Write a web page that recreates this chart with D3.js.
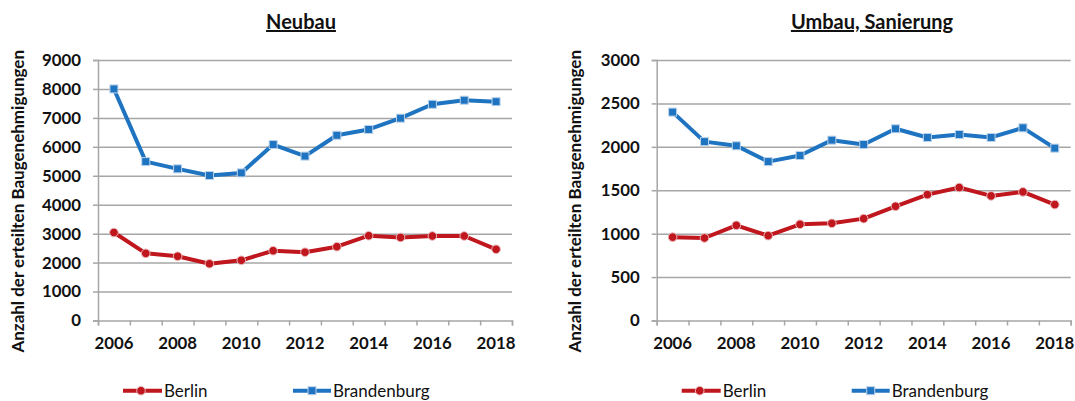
<!DOCTYPE html>
<html>
<head>
<meta charset="utf-8">
<script src="https://cdn.jsdelivr.net/npm/d3@7"></script>
<style>
  html, body { margin: 0; padding: 0; background: #fff; }
  svg { display: block; font-family: Lato, "Open Sans", sans-serif; }
</style>
</head>
<body>
<svg id="chart" width="1075" height="401"></svg>
<script>
// Baugenehmigungen 2006–2018, Berlin und Brandenburg
const years = [2006, 2007, 2008, 2009, 2010, 2011, 2012, 2013, 2014, 2015, 2016, 2017, 2018];
const labelYears = [2006, 2008, 2010, 2012, 2014, 2016, 2018];

const neubauBerlin      = [3040, 2320, 2220, 1960, 2080, 2410, 2360, 2550, 2930, 2870, 2920, 2920, 2460];
const neubauBrandenburg = [8000, 5490, 5240, 5010, 5100, 6080, 5680, 6400, 6600, 6990, 7470, 7610, 7560];
const umbauBerlin       = [960, 950, 1096, 977, 1108, 1119, 1173, 1315, 1450, 1531, 1435, 1481, 1335];
const umbauBrandenburg  = [2400, 2060, 2012, 1830, 1900, 2077, 2027, 2208, 2108, 2142, 2108, 2219, 1985];

const neubauTicks = [0, 1000, 2000, 3000, 4000, 5000, 6000, 7000, 8000, 9000];
const umbauTicks  = [0, 500, 1000, 1500, 2000, 2500, 3000];

const seriesNames = ["Berlin", "Brandenburg"];
const axisTitle = "Anzahl der erteilten Baugenehmigungen";

const RED = "#c0161d";
const BLUE = "#1f74c1";
const GRID = "#a6a6a6";

const svg = d3.select("#chart");

const panels = [
  { title: "Neubau", titleX: 301, left: 98, yMax: 9000, ticks: neubauTicks,
    berlin: neubauBerlin, brandenburg: neubauBrandenburg, ytitleX: 24 },
  { title: "Umbau, Sanierung", titleX: 872, left: 656.7, yMax: 3000, ticks: umbauTicks,
    berlin: umbauBerlin, brandenburg: umbauBrandenburg, ytitleX: 581 }
];

const plotW = 414, plotTop = 60, plotBottom = 320.5;

panels.forEach(p => {
  const g = svg.append("g");
  const x = d3.scaleBand().domain(years).range([p.left, p.left + plotW]).padding(0);
  const xEdge = d3.scaleLinear().domain([0, years.length]).range([p.left, p.left + plotW]);
  const y = d3.scaleLinear().domain([0, p.yMax]).range([plotBottom, plotTop]);

  // title
  g.append("text")
    .attr("x", p.titleX).attr("y", 29)
    .attr("text-anchor", "middle")
    .style("font-size", "20px").style("font-weight", "bold")
    .style("text-decoration", "underline")
    .attr("fill", "#111")
    .text(p.title);

  // horizontal gridlines
  g.append("g")
    .attr("transform", `translate(${p.left},0)`)
    .call(d3.axisLeft(y).tickValues(p.ticks.filter(t => t > 0)).tickSize(-plotW).tickFormat(""))
    .call(s => s.select(".domain").remove())
    .call(s => s.selectAll("line").attr("stroke", GRID).attr("stroke-width", 1.5));

  // y axis with labels
  g.append("g")
    .attr("transform", `translate(${p.left},0)`)
    .call(d3.axisLeft(y).tickValues(p.ticks).tickSize(5).tickPadding(12).tickFormat(d3.format("d")))
    .call(s => s.select(".domain").attr("stroke", GRID).attr("stroke-width", 1.5))
    .call(s => s.selectAll("line").attr("stroke", GRID).attr("stroke-width", 1.5))
    .call(s => s.selectAll("text")
      .style("font-size", "16.8px").style("font-weight", "bold")
      .style("font-family", "Lato, sans-serif").attr("fill", "#111"));

  // x axis tick marks at category boundaries
  g.append("g")
    .attr("transform", `translate(0,${plotBottom})`)
    .call(d3.axisBottom(xEdge).tickValues(d3.range(0, years.length + 1)).tickSize(5).tickFormat(""))
    .call(s => s.select(".domain").attr("stroke", GRID).attr("stroke-width", 1.5))
    .call(s => s.selectAll("line").attr("stroke", GRID).attr("stroke-width", 1.5));

  // x axis labels at category centres
  g.append("g")
    .attr("transform", `translate(0,${plotBottom})`)
    .call(d3.axisBottom(x).tickValues(labelYears).tickSize(0).tickPadding(17))
    .call(s => s.select(".domain").remove())
    .call(s => s.selectAll("text")
      .style("font-size", "16.8px").style("font-weight", "bold")
      .style("font-family", "Lato, sans-serif").attr("fill", "#111"));

  // y axis title
  g.append("text")
    .attr("transform", `translate(${p.ytitleX},${(plotTop + plotBottom) / 2 + 11}) rotate(-90)`)
    .attr("text-anchor", "middle")
    .style("font-size", "17px").style("font-weight", "bold")
    .attr("fill", "#111")
    .text(axisTitle);

  const cx = d => x(d) + x.bandwidth() / 2;
  const line = d3.line().x(d => cx(d.year)).y(d => y(d.v));

  const berlinPts = years.map((yr, i) => ({ year: yr, v: p.berlin[i] }));
  const brandPts = years.map((yr, i) => ({ year: yr, v: p.brandenburg[i] }));

  // Brandenburg series
  g.append("path").datum(brandPts)
    .attr("d", line).attr("fill", "none")
    .attr("stroke", BLUE).attr("stroke-width", 4).attr("stroke-linejoin", "round");
  g.selectAll(".sq").data(brandPts).join("rect")
    .attr("x", d => cx(d.year) - 4).attr("y", d => y(d.v) - 4)
    .attr("width", 8).attr("height", 8)
    .attr("fill", BLUE).attr("stroke", "#bcd3ea").attr("stroke-width", 1);

  // Berlin series
  g.append("path").datum(berlinPts)
    .attr("d", line).attr("fill", "none")
    .attr("stroke", RED).attr("stroke-width", 4).attr("stroke-linejoin", "round");
  g.selectAll(".ci").data(berlinPts).join("circle")
    .attr("cx", d => cx(d.year)).attr("cy", d => y(d.v))
    .attr("r", 4.3)
    .attr("fill", RED).attr("stroke", "#eab9bb").attr("stroke-width", 1);

  // legend
  const lg = g.append("g").attr("transform", `translate(${p.left},0)`);
  const ly = 390.7;
  // Berlin entry
  lg.append("line").attr("x1", 25).attr("x2", 64).attr("y1", ly).attr("y2", ly)
    .attr("stroke", RED).attr("stroke-width", 4);
  lg.append("circle").attr("cx", 43).attr("cy", ly).attr("r", 4.3)
    .attr("fill", RED).attr("stroke", "#eab9bb").attr("stroke-width", 1);
  lg.append("text").attr("x", 66).attr("y", 396.5)
    .style("font-size", "17px").attr("fill", "#111").text(seriesNames[0]);
  // Brandenburg entry
  lg.append("line").attr("x1", 195).attr("x2", 233).attr("y1", ly).attr("y2", ly)
    .attr("stroke", BLUE).attr("stroke-width", 4);
  lg.append("rect").attr("x", 210).attr("y", ly - 4).attr("width", 8).attr("height", 8)
    .attr("fill", BLUE).attr("stroke", "#bcd3ea").attr("stroke-width", 1);
  lg.append("text").attr("x", 235).attr("y", 396.5)
    .style("font-size", "17px").attr("fill", "#111").text(seriesNames[1]);
});
</script>
</body>
</html>
